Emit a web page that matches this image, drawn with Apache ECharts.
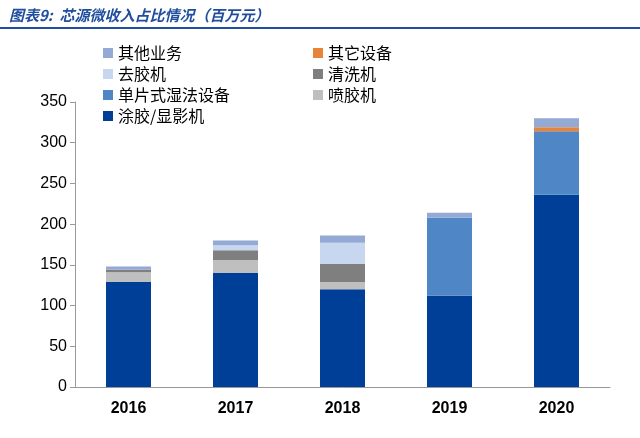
<!DOCTYPE html><html><head><meta charset="utf-8"><script src="https://cdn.jsdelivr.net/npm/echarts@6/dist/echarts.min.js"></script></head><body style="margin:0;background:#fff"><div id="c" style="width:640px;height:438px"></div><script>
const years=['2016','2017','2018','2019','2020'];
const coat=[129,140,120,112,236];
const spray=[12,16,9,0,0];
const single=[0,0,0,96,78];
const clean=[3,12,22,0,0];
const strip=[0,6,26,0,0];
const otherEquip=[0,0,0,0,5];
const otherBiz=[4,6,9,6,11];
const yTicks=[0,50,100,150,200,250,300,350];
const defs=[['涂胶/显影机',coat,'#003f98'],['喷胶机',spray,'#bfbfbf'],['单片式湿法设备',single,'#4f86c6'],['清洗机',clean,'#7f7f7f'],['去胶机',strip,'#c6d7ef'],['其它设备',otherEquip,'#e8833a'],['其他业务',otherBiz,'#94a9d3']];
const c=echarts.init(document.getElementById('c'));
const lg={orient:'vertical',itemWidth:10,itemHeight:10,itemGap:5,textStyle:{fontSize:16,color:'#000',fontFamily:'Noto Sans CJK SC'},icon:'rect'};
c.setOption({
title:{text:'图表9:  芯源微收入占比情况（百万元）',left:4,top:3,textStyle:{fontSize:15,fontStyle:'italic',fontWeight:'bold',color:'#1f4e9e',fontFamily:'Noto Sans CJK SC'}},
graphic:[{type:'rect',shape:{x:0,y:27,width:640,height:2},style:{fill:'#1f4e9e'}}],
legend:[Object.assign({left:98,top:40,data:['其他业务','去胶机','单片式湿法设备','涂胶/显影机']},lg),Object.assign({left:308,top:40,data:['其它设备','清洗机','喷胶机']},lg)],
grid:{left:75,right:30,top:102,bottom:51},
xAxis:{type:'category',data:years,axisTick:{show:false},axisLine:{lineStyle:{color:'#999'}},axisLabel:{fontSize:16,fontWeight:'bold',color:'#000',margin:14}},
yAxis:{type:'value',min:0,max:350,interval:50,splitLine:{show:false},axisLine:{show:true,lineStyle:{color:'#999'}},axisTick:{show:true,lineStyle:{color:'#999'}},axisLabel:{fontSize:16,color:'#000',formatter:v=>yTicks.includes(v)?v:''}},
series:defs.map(d=>({name:d[0],type:'bar',stack:'a',data:d[1],barWidth:45,itemStyle:{color:d[2]}}))
});
</script></body></html>
